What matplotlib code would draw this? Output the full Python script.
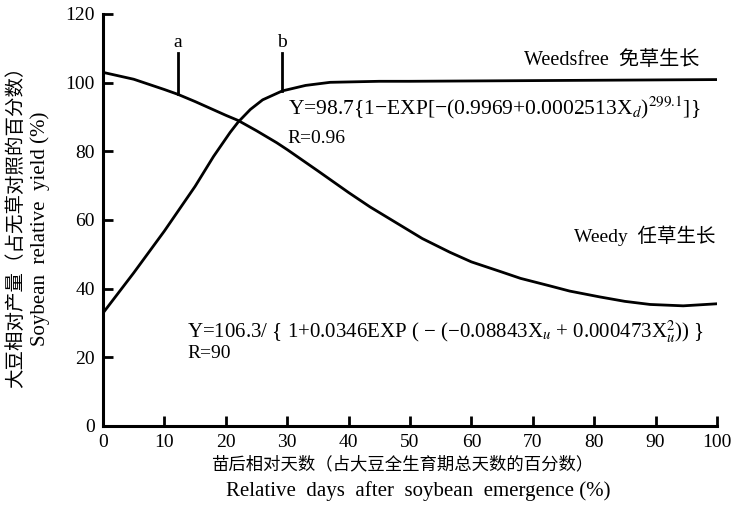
import matplotlib.pyplot as plt

plt.rcParams['mathtext.fontset'] = 'stix'
serif = ['Liberation Serif', 'Noto Sans CJK SC']

## values (days after emergence %, relative yield %) ##
days_weedy = [0, 5, 10, 12.2, 15, 20, 22, 25, 28.3, 30, 35, 40, 43.5, 48.4, 52,
              56.5, 60, 64.7, 68, 72.8, 76, 80.9, 85, 89.1, 94.5, 100]
yield_weedy = [103, 101, 98, 96.6, 94.5, 90.5, 89, 86, 82.5, 80.5, 74.3, 68, 63.8, 58.5, 54.6,
               50.6, 47.8, 45.0, 43.0, 40.8, 39.3, 37.6, 36.3, 35.4, 35.0, 35.6]

days_free = [0, 5, 10, 15, 18, 20.7, 22, 24, 26, 29.2, 33, 37, 45, 50, 60, 70, 80, 90, 100]
yield_free = [32.9, 44.6, 56.8, 69.8, 78.5, 85.5, 88.5, 92.2, 95, 97.6, 99.2, 100.1, 100.4,
              100.4, 100.5, 100.6, 100.7, 100.8, 100.9]

mark_names = ['a', 'b']
mark_days = [12.2, 29.2]
mark_yields = [96.6, 97.6]
mark_top = 108.5

x_ticks = list(range(0, 101, 10))
y_ticks = list(range(0, 121, 20))

eq_free = r'Y=98.7{1−EXP[−(0.9969+0.0002513X$_d$)$^{299.1}$]}'
eq_weedy = r'Y=106.3/ { 1+0.0346EXP ( − (−0.08843X$_u$ + 0.000473X$_u^2$)) }'

fig = plt.figure(figsize=(7.4, 5.08), dpi=100)
ax = fig.add_axes([103/740, 1-426/508, (717-103)/740, (426-14)/508])

ax.plot(days_weedy, yield_weedy, color='black', lw=2)
ax.plot(days_free, yield_free, color='black', lw=2)

for n, d, yv in zip(mark_names, mark_days, mark_yields):
    ax.plot([d, d], [yv, mark_top], color='black', lw=2)
    ax.text(d, mark_top + 0.6, n, ha='center', va='bottom', fontsize=14, family=serif)

ax.set_xlim(0, 100)
ax.set_ylim(0, 120)
ax.set_xticks(x_ticks)
ax.set_yticks(y_ticks)
ax.tick_params(direction='in', length=7, width=2, labelsize=14, pad=6)
for lab in ax.get_xticklabels() + ax.get_yticklabels():
    lab.set_family(serif)
for s in ['top', 'right']:
    ax.spines[s].set_visible(False)
for s in ['left', 'bottom']:
    ax.spines[s].set_linewidth(2.2)

# annotations
ax.text(97.2, 106.4, 'Weedsfree  免草生长', ha='right', va='center', fontsize=14.5, family=serif)
ax.text(30.1, 92.6, eq_free, ha='left', va='center', fontsize=15.5, family=serif)
ax.text(30.1, 83.7, 'R=0.96', ha='left', va='center', fontsize=14, family=serif)
ax.text(99.7, 55.5, 'Weedy  任草生长', ha='right', va='center', fontsize=14, family=serif)
ax.text(13.7, 27.4, eq_weedy, ha='left', va='center', fontsize=15, family=serif)
ax.text(13.7, 21, 'R=90', ha='left', va='center', fontsize=14, family=serif)

# axis titles
fig.text(402/740, 1-465/508, '苗后相对天数（占大豆全生育期总天数的百分数）', ha='center', va='center',
         fontsize=12.5, family=serif)
fig.text(418/740, 1-491/508, 'Relative  days  after  soybean  emergence (%)', ha='center', va='center',
         fontsize=15, family=serif)
fig.text(16/740, 1-222/508, '大豆相对产量（占无草对照的百分数）', ha='center', va='center',
         rotation=90, fontsize=14, family=serif)
fig.text(40/740, 1-229/508, 'Soybean  relative  yield (%)', ha='center', va='center',
         rotation=90, fontsize=15, family=serif)

fig.savefig('out.png', dpi=100)
